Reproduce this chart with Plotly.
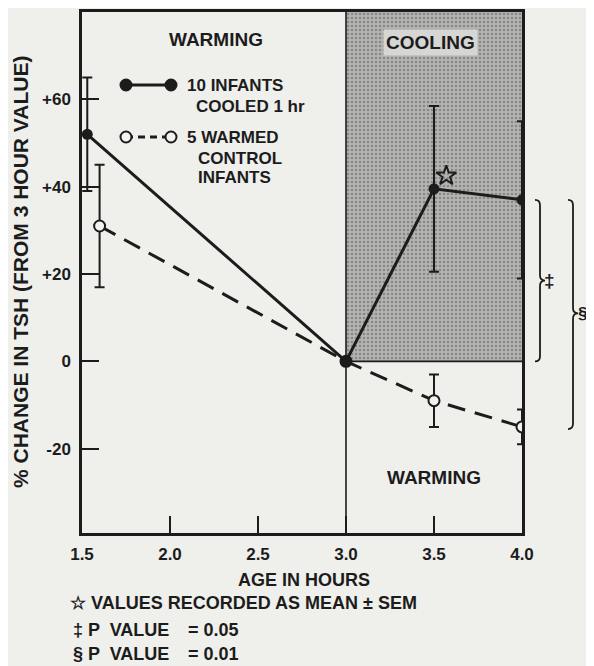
import plotly.graph_objects as go

# ---- data ----
cooled_x = [1.53, 3.0, 3.5, 4.0]
cooled_y = [52, 0, 39.5, 37]
cooled_err = [13, 0, 19, 18]

warmed_x = [1.60, 3.0, 3.5, 4.0]
warmed_y = [31, 0, -9, -15]
warmed_err = [14, 0, 6, 4]

x_ticks = [1.5, 2.0, 2.5, 3.0, 3.5, 4.0]
x_ticklabels = ["1.5", "2.0", "2.5", "3.0", "3.5", "4.0"]
y_ticks = [60, 40, 20, 0, -20]
y_ticklabels = ["+60", "+40", "+20", "0", "-20"]

X_RANGE = [1.5, 4.0]
Y_RANGE = [-39.3, 80]
COOL_START, COOL_END = 3.0, 4.0

INK = "#1c1c1c"
BG = "#efefec"
FONT = "Liberation Sans, Arial, sans-serif"

# page has an 8px body margin; plot area sits at page x 82..522, y 12..533
PAGE_OFF = 8

fig = go.Figure()

# stippled cooling region
fig.add_trace(go.Bar(
    x=[(COOL_START + COOL_END) / 2], y=[Y_RANGE[1]], base=[0],
    width=[COOL_END - COOL_START],
    marker=dict(color="#adadab", line=dict(width=0),
                pattern=dict(shape=".", fgcolor="#5c5c5c", bgcolor="#b4b4b2",
                             size=4, solidity=0.35)),
    showlegend=False, hoverinfo="skip"))

# warmed control infants (dashed, open circles)
fig.add_trace(go.Scatter(
    x=warmed_x, y=warmed_y, mode="lines+markers",
    line=dict(color=INK, width=3, dash="18px,10px"),
    marker=dict(symbol="circle", size=11, color="#f2f2f0",
                line=dict(color=INK, width=2)),
    error_y=dict(type="data", array=warmed_err, visible=True,
                 color=INK, thickness=2, width=5),
    showlegend=False))

# cooled infants (solid, filled)
fig.add_trace(go.Scatter(
    x=cooled_x, y=cooled_y, mode="lines+markers",
    line=dict(color=INK, width=3),
    marker=dict(symbol="circle", size=11, color=INK),
    error_y=dict(type="data", array=cooled_err, visible=True,
                 color=INK, thickness=2, width=5),
    showlegend=False))

# star marking "mean ± SEM"
fig.add_trace(go.Scatter(
    x=[3.57], y=[42.5], mode="markers",
    marker=dict(symbol="star-open", size=15, color=INK, line=dict(width=2, color=INK)),
    showlegend=False, hoverinfo="skip"))

# ---- manual legend (paper coords) ----
def px2paper(px, py):
    return (px - 82) / 440, (533 - py) / 521

leg = [
    (85, "solid", INK),
    (137, "dash", "#f2f2f0"),
]
for py, dash, fill in leg:
    x0, y0 = px2paper(126, py)
    x1, _ = px2paper(171, py)
    fig.add_shape(type="line", xref="paper", yref="paper", x0=x0, x1=x1, y0=y0, y1=y0,
                  line=dict(color=INK, width=3, dash="solid" if dash == "solid" else "7px,5px"))
    r = 5.5 / 440
    ry = 5.5 / 521
    for xc in (x0, x1):
        fig.add_shape(type="circle", xref="paper", yref="paper",
                      x0=xc - r, x1=xc + r, y0=y0 - ry, y1=y0 + ry,
                      fillcolor=fill, line=dict(color=INK, width=2))

def ann(text, px, py, size=17, xanchor="left", **kw):
    x, y = px2paper(px, py)
    fig.add_annotation(text=text, x=x, y=y, xref="paper", yref="paper",
                       xanchor=xanchor, yanchor="middle", showarrow=False,
                       font=dict(family=FONT, size=size, color=INK, weight="bold"), **kw)

ann("10 INFANTS", 185, 85)
ann("COOLED 1 hr", 194, 107)
ann("5 WARMED", 185, 137)
ann("CONTROL", 196, 158)
ann("INFANTS", 196, 178)

# region labels
LBL = dict(family=FONT, size=19, color=INK, weight="bold")
fig.add_annotation(text="WARMING", x=2.26, y=73.6, showarrow=False, font=LBL)
fig.add_annotation(text="COOLING", x=3.48, y=73, showarrow=False, bgcolor="#d6d6d4",
                   borderpad=2, font=LBL)
fig.add_annotation(text="WARMING", x=3.5, y=-26.5, showarrow=False, font=LBL)

# axis titles & footnotes
ann("% CHANGE IN TSH (FROM 3 HOUR VALUE)", 20, 272, size=21, xanchor="center", textangle=-90)
ann("AGE IN HOURS", 304, 580, size=18, xanchor="center")
ann("☆ VALUES RECORDED AS MEAN ± SEM", 68, 603, size=18)
ann("‡ P  VALUE", 71, 630, size=18)
ann("= 0.05", 186, 630, size=18)
ann("§ P  VALUE", 71, 654, size=18)
ann("= 0.01", 186, 654, size=18)

# ---- region boundary lines ----
fig.add_shape(type="line", xref="x", yref="paper", x0=COOL_START, x1=COOL_START, y0=0, y1=1,
              line=dict(color=INK, width=1.6), layer="above")
fig.add_shape(type="line", xref="x", yref="y", x0=COOL_START, x1=COOL_END, y0=0, y1=0,
              line=dict(color=INK, width=1.6), layer="above")

# ---- significance braces ----
def brace(xp, ytop, ybot, ymid, d=5 / 440, e=1.2):
    path = (f"M {xp - d},{ytop} Q {xp},{ytop} {xp},{ytop - e} "
            f"L {xp},{ymid + e} Q {xp},{ymid} {xp + d},{ymid} "
            f"Q {xp},{ymid} {xp},{ymid - e} "
            f"L {xp},{ybot + e} Q {xp},{ybot} {xp - d},{ybot}")
    fig.add_shape(type="path", xref="paper", yref="y", path=path,
                  line=dict(color=INK, width=1.8))

b1x, _ = px2paper(540, 0)
b2x, _ = px2paper(573, 0)
brace(b1x, cooled_y[3], 0, (cooled_y[3] + 0) / 2)
brace(b2x, cooled_y[3], warmed_y[3] - 0.5, (cooled_y[3] + warmed_y[3]) / 2)
fig.add_annotation(text="‡", x=px2paper(557, 0)[0], y=(cooled_y[3]) / 2, xref="paper", yref="y",
                   showarrow=False, font=dict(family=FONT, size=19, color=INK, weight="bold"))
fig.add_annotation(text="§", x=px2paper(577, 0)[0], y=(cooled_y[3] + warmed_y[3]) / 2,
                   xref="paper", yref="y", xanchor="left", borderpad=0,
                   showarrow=False, font=dict(family=FONT, size=17, color=INK, weight="bold"))

TICKFONT = dict(family=FONT, size=17, color=INK, weight="bold")
fig.update_xaxes(range=X_RANGE, tickvals=x_ticks, ticktext=x_ticklabels,
                 ticks="inside", ticklen=17, tickwidth=2, tickcolor=INK,
                 showline=True, linewidth=2.5, linecolor=INK, mirror=True,
                 showgrid=False, zeroline=False, ticklabelstandoff=4,
                 tickfont=TICKFONT)
fig.update_yaxes(range=Y_RANGE, tickvals=y_ticks, ticktext=y_ticklabels,
                 ticks="inside", ticklen=17, tickwidth=2, tickcolor=INK,
                 showline=True, linewidth=2.5, linecolor=INK, mirror=True,
                 showgrid=False, zeroline=False, ticklabelstandoff=5,
                 tickfont=TICKFONT)

fig.update_layout(width=594 - PAGE_OFF, height=666 - PAGE_OFF,
                  margin=dict(l=82 - PAGE_OFF, r=72, t=12 - PAGE_OFF, b=133, autoexpand=False),
                  paper_bgcolor=BG, plot_bgcolor=BG, showlegend=False, bargap=0)

fig.write_html("out.html")
